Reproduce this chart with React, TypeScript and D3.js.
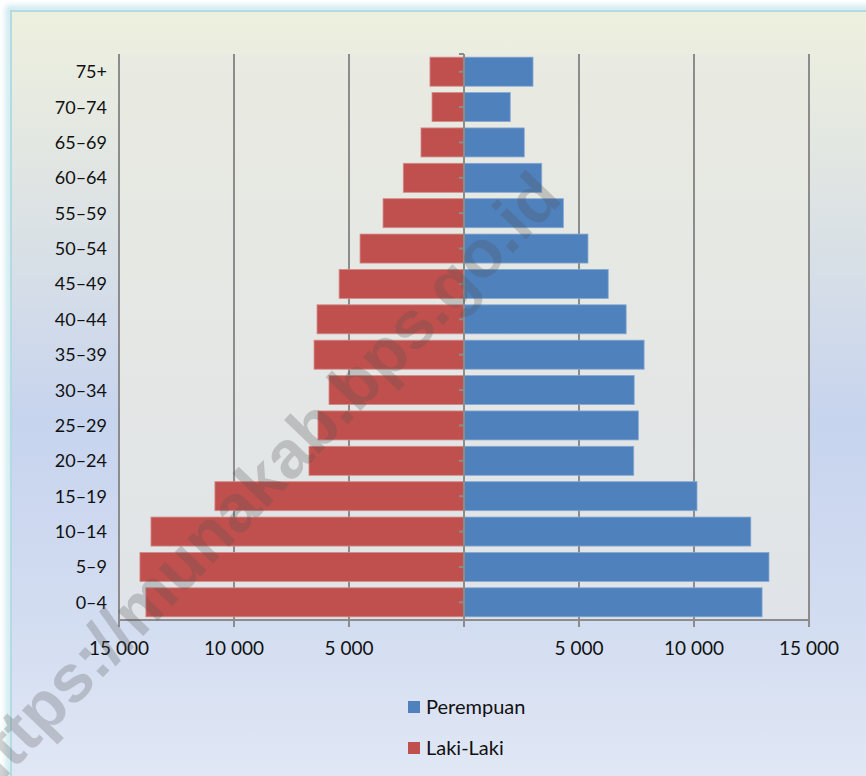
import React from "react";
import * as d3 from "d3";

const ageGroups = ["75+", "70–74", "65–69", "60–64", "55–59", "50–54", "45–49", "40–44", "35–39", "30–34", "25–29", "20–24", "15–19", "10–14", "5–9", "0–4"];
const lakiLaki = [1480, 1390, 1870, 2640, 3520, 4520, 5430, 6390, 6520, 5870, 6350, 6740, 10830, 13610, 14090, 13830];
const perempuan = [3000, 2010, 2620, 3380, 4320, 5390, 6270, 7050, 7830, 7400, 7580, 7380, 10130, 12470, 13260, 12960];
const xTicks = [-15000, -10000, -5000, 0, 5000, 10000, 15000];
const seriesNames = ["Perempuan", "Laki-Laki"];
const seriesColors = ["#4f81bd", "#c0504d"];

const W = 866, H = 776;
const FONT = "Lato, 'Open Sans', sans-serif";

export default function App() {
  const x = d3.scaleLinear().domain([-15000, 15000]).range([119, 809]);
  const y = d3.scaleBand().domain(ageGroups).range([54, 620]).paddingInner(0.18).paddingOuter(0.09);
  const yc = (g: string) => (y(g) as number) + y.bandwidth() / 2;
  const fmt = (v: number) => v === 0 ? "" : d3.format(",")(Math.abs(v)).replace(/,/g, " ");
  const x0 = x(0);

  return (
    <svg width={W} height={H} style={{ position: "absolute", left: 0, top: 0 }} fontFamily={FONT}>
      <defs>
        <linearGradient id="bg" x1="0" y1="0" x2="0" y2="1">
          <stop offset="0" stopColor="#eef0de" />
          <stop offset="0.25" stopColor="#dde3e4" />
          <stop offset="0.52" stopColor="#c7d4ee" />
          <stop offset="0.78" stopColor="#d3ddf1" />
          <stop offset="1" stopColor="#e2e8f5" />
        </linearGradient>
        <linearGradient id="plotbg" x1="0" y1="0" x2="0" y2="1">
          <stop offset="0" stopColor="#e9eae1" />
          <stop offset="1" stopColor="#e0e4e8" />
        </linearGradient>
        <filter id="glow" x="-5%" y="-5%" width="110%" height="110%">
          <feGaussianBlur stdDeviation="3" />
        </filter>
      </defs>
      <rect x={0} y={0} width={W} height={H} fill="#ffffff" />
      <rect x={9} y={9} width={W + 10} height={H + 10} fill="none" stroke="#c4e4ea" strokeWidth={6} filter="url(#glow)" />
      <rect x={11} y={11} width={W + 10} height={H - 11 + 20} fill="url(#bg)" stroke="#b2dbe3" strokeWidth={2} />
      <rect x={119} y={54} width={690} height={566} fill="url(#plotbg)" />

      {/* gridlines */}
      {xTicks.map((t) => (
        <line key={"g" + t} x1={x(t)} x2={x(t)} y1={54} y2={627} stroke="#8c8c8c" strokeWidth={2} />
      ))}
      <line x1={119} x2={809} y1={620} y2={620} stroke="#8c8c8c" strokeWidth={2} />

      {/* bars */}
      {ageGroups.map((g, i) => (
        <g key={g}>
          <rect x={x(-lakiLaki[i])} y={y(g)} width={x0 - x(-lakiLaki[i])} height={y.bandwidth()}
            fill={seriesColors[1]} stroke="#d48a88" strokeWidth={0.8} />
          <rect x={x0} y={y(g)} width={x(perempuan[i]) - x0} height={y.bandwidth()}
            fill={seriesColors[0]} stroke="#86a8d4" strokeWidth={0.8} />
        </g>
      ))}

      {/* center axis */}
      <line x1={x0} x2={x0} y1={54} y2={620} stroke="#8c8c8c" strokeWidth={2} />
      <line x1={x0 - 5} x2={x0} y1={54} y2={54} stroke="#8c8c8c" strokeWidth={2} />
      {ageGroups.map((g) => (
        <line key={"t" + g} x1={x0 - 5} x2={x0} y1={yc(g)} y2={yc(g)} stroke="#8c8c8c" strokeWidth={2} />
      ))}

      {/* y labels */}
      {ageGroups.map((g) => (
        <text key={"l" + g} x={107} y={yc(g)} dy="0.36em" textAnchor="end" fontSize={18} fill="#111">{g}</text>
      ))}

      {/* x labels */}
      {xTicks.map((t) => (
        <text key={"xl" + t} x={x(t)} y={655} textAnchor="middle" fontSize={19} fill="#111">{fmt(t)}</text>
      ))}

      {/* legend */}
      {seriesNames.map((n, i) => (
        <g key={n} transform={`translate(408, ${701 + i * 41})`}>
          <rect x={0} y={0} width={12} height={12} fill={seriesColors[i]} />
          <text x={18} y={12.5} fontSize={20} fill="#111">{n}</text>
        </g>
      ))}

      {/* watermark */}
      <text x={564} y={200} textAnchor="end" fontSize={67} fontWeight="bold" fill="#505050" fillOpacity={0.26}
        fontFamily="'Liberation Sans', Arial, sans-serif" transform="rotate(-46 564 200)">https://munakab.bps.go.id</text>
    </svg>
  );
}
